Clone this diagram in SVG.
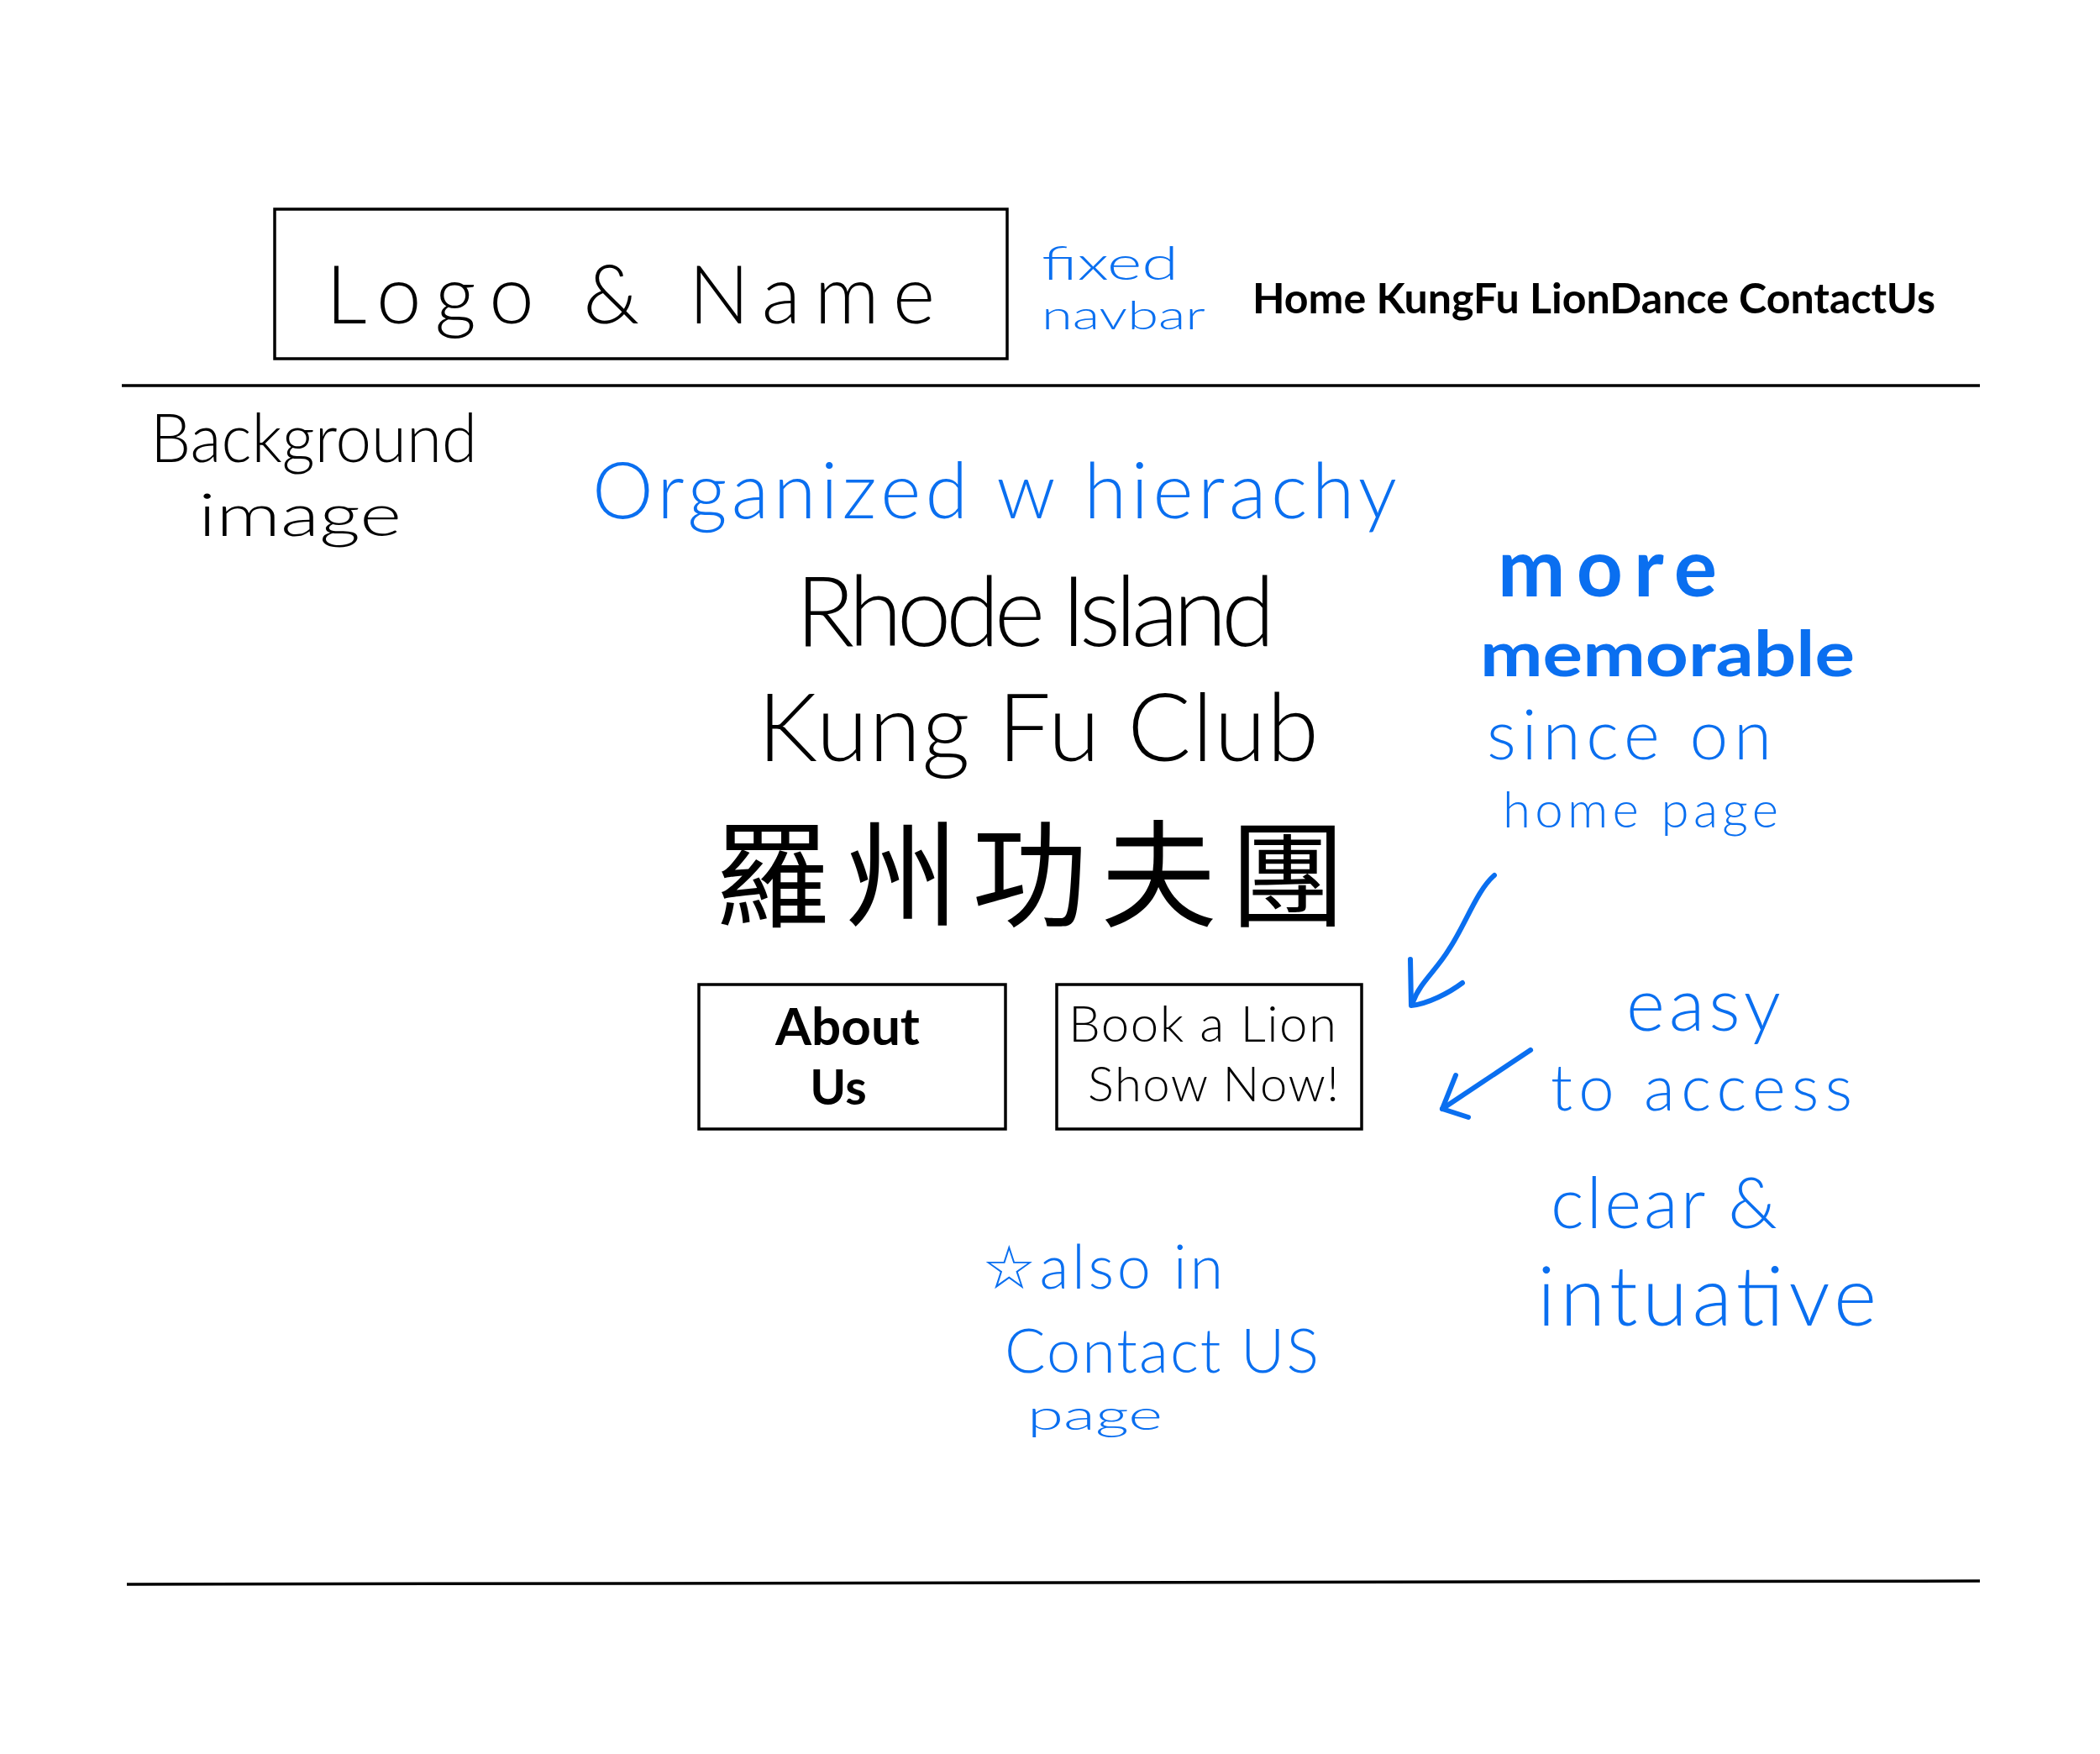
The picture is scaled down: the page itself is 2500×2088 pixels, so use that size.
<svg xmlns="http://www.w3.org/2000/svg" width="2500" height="2088" viewBox="0 0 2500 2088">
<style>
.t{font-family:Lato,"Open Sans","Liberation Sans",sans-serif;font-weight:300;fill:#000}
.b{fill:#0a6ff0}
.bold{font-weight:700}
.box{fill:none;stroke:#000;stroke-width:3.5}
.rule{stroke:#000;stroke-width:3.5;fill:none}
.arr{fill:none;stroke:#0a6ff0;stroke-width:6;stroke-linecap:round;stroke-linejoin:round}
.cjk{font-family:"Noto Sans CJK TC","Noto Sans CJK SC",sans-serif;font-weight:400;fill:#000}
</style>
<rect width="2500" height="2088" fill="#fff"/>
<g id="dividers">
<line class="rule" x1="145" y1="459" x2="2357" y2="459"/>
<path class="rule" d="M151 1886 L2357 1882"/>
</g>
<g id="logo-name">
<rect class="box" x="327" y="249" width="872" height="178"/>
<text class="t" x="388" y="385" font-size="96" textLength="725" lengthAdjust="spacing">Logo &amp; Name</text>
</g>
<g id="fixed-navbar-note">
<text class="t b" x="1240" y="333" font-size="56" textLength="163" lengthAdjust="spacingAndGlyphs">fixed</text>
<text class="t b" x="1240" y="392" font-size="47" textLength="195" lengthAdjust="spacingAndGlyphs">navbar</text>
</g>
<g id="navbar">
<text class="t bold" x="1491" y="373" font-size="50" textLength="813" lengthAdjust="spacingAndGlyphs">Home KungFu LionDance ContactUs</text>
</g>
<g id="background-image">
<text class="t" x="179" y="550" font-size="80" textLength="389" lengthAdjust="spacingAndGlyphs">Background</text>
<text class="t" x="236" y="638" font-size="70" textLength="242" lengthAdjust="spacingAndGlyphs">image</text>
</g>
<g id="hierarchy-note">
<text class="t b" x="705" y="617" font-size="92" textLength="958" lengthAdjust="spacing">Organized w hierachy</text>
</g>
<g id="title">
<text class="t" x="947" y="769" font-size="116" textLength="571" lengthAdjust="spacing">Rhode Island</text>
<text class="t" x="902" y="906" font-size="112" textLength="668" lengthAdjust="spacing">Kung Fu Club</text>
<text class="cjk" x="850" y="1092" font-size="138" textLength="752" lengthAdjust="spacing">羅州功夫團</text>
</g>
<g id="about-us">
<rect class="box" x="832" y="1172" width="365" height="172"/>
<text class="t bold" x="1009" y="1244" font-size="62" text-anchor="middle">About</text>
<text class="t bold" x="998" y="1315" font-size="58" text-anchor="middle">Us</text>
</g>
<g id="book-show">
<rect class="box" x="1258" y="1172" width="363" height="172"/>
<text class="t" x="1272" y="1240" font-size="60" textLength="319" lengthAdjust="spacing">Book a Lion</text>
<text class="t" x="1295" y="1311" font-size="58" textLength="299" lengthAdjust="spacing">Show Now!</text>
</g>
<g id="memorable-note">
<text class="t b bold" x="1783" y="710" font-size="96" textLength="261" lengthAdjust="spacing">more</text>
<text class="t b bold" x="1762" y="805" font-size="75" textLength="446" lengthAdjust="spacingAndGlyphs">memorable</text>
<text class="t b" x="1770" y="904" font-size="82" textLength="339" lengthAdjust="spacing">since on</text>
<text class="t b" x="1789" y="985" font-size="60" textLength="328" lengthAdjust="spacing">home page</text>
</g>
<g id="access-note">
<text class="t b" x="1936" y="1227" font-size="88" textLength="184" lengthAdjust="spacing">easy</text>
<text class="t b" x="1846" y="1322" font-size="76" textLength="359" lengthAdjust="spacing">to access</text>
<text class="t b" x="1846" y="1462" font-size="84" textLength="270" lengthAdjust="spacing">clear &amp;</text>
<text class="t b" x="1830" y="1578" font-size="98" textLength="404" lengthAdjust="spacing">intuative</text>
</g>
<g id="contact-note">
<text class="t b" x="1169" y="1534" font-size="72" textLength="287" lengthAdjust="spacing">☆also in</text>
<text class="t b" x="1196" y="1634" font-size="72" textLength="374" lengthAdjust="spacing">Contact US</text>
<text class="t b" x="1223" y="1702" font-size="50" textLength="161" lengthAdjust="spacingAndGlyphs">page</text>
</g>
<g id="connectors">
<path class="arr" d="M1779 1042 C1758 1060 1745 1100 1725 1130 C1710 1155 1690 1170 1682 1193"/>
<path class="arr" d="M1679 1142 L1680 1197 C1700 1195 1725 1182 1741 1170"/>
<path class="arr" d="M1822 1250 L1717 1320"/>
<path class="arr" d="M1733 1280 L1717 1320 L1748 1330"/>
</g>
</svg>
